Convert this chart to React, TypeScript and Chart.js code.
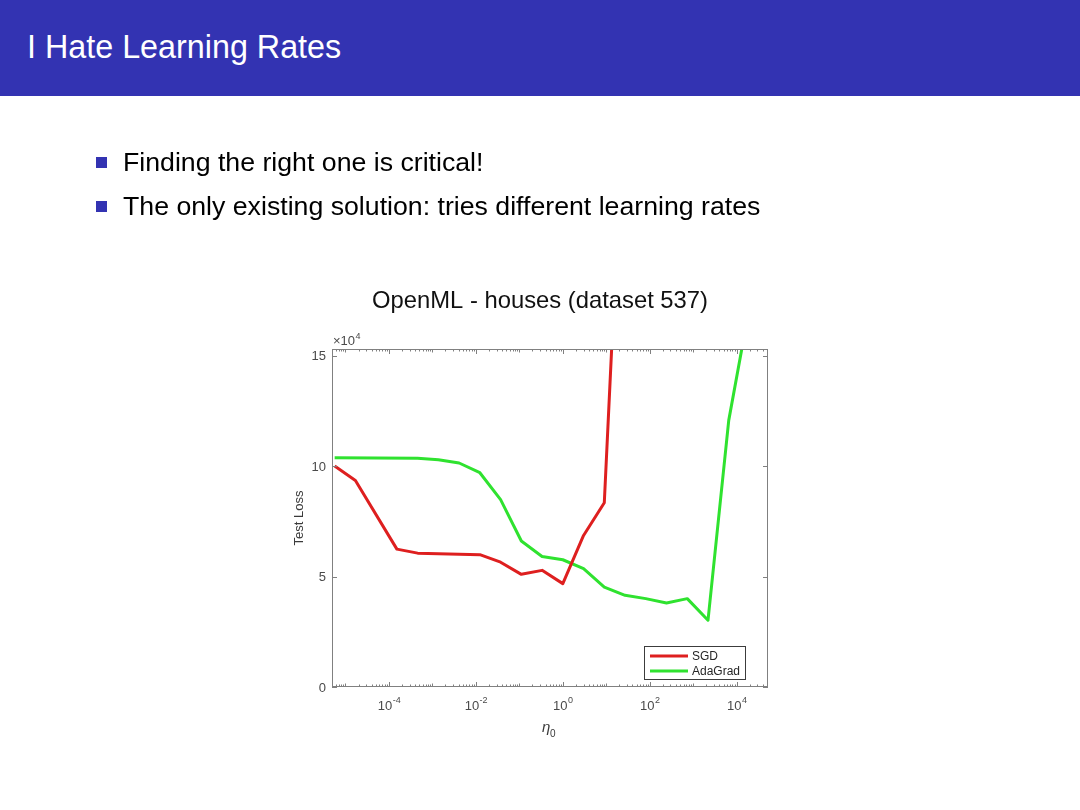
import React, { useEffect, useRef } from "react";
import { Chart, registerables } from "chart.js";

Chart.register(...registerables);

// learning rates (eta_0) and test loss (x 10^4)
const sgdEta = [5.645e-6, 1.694e-5, 1.524e-4, 4.572e-4, 0.01235, 0.03704, 0.1111, 0.3333, 1, 3, 9, 27];
const sgdLoss = [10.0, 9.35, 6.24, 6.06, 5.99, 5.65, 5.1, 5.28, 4.68, 6.86, 8.34, 28.0];
const adaEta = [
  5.645e-6, 4.572e-4, 1.372e-3, 4.115e-3, 0.01235, 0.03704, 0.1111, 0.3333, 1, 3, 9, 27, 81, 243, 729, 2187,
  6561, 19683,
];
const adaLoss = [10.38, 10.36, 10.29, 10.14, 9.7, 8.48, 6.61, 5.91, 5.76, 5.36, 4.52, 4.15, 4.0, 3.8, 4.0, 3.02, 12.07, 17.2];

const seriesNames = ["SGD", "AdaGrad"];
const seriesColors = ["#de1f1f", "#2fe22f"];
const yTicks = [0, 5, 10, 15];
const xLabelExps = ["-4", "-2", "0", "2", "4"];
const xMin = 4.9e-6;
const xMax = 5.25e4;
const yMin = 0;
const yMax = 15.3;

const chartTitle = "OpenML - houses (dataset 537)";
const yTitle = "Test Loss";
const yExponent = "4";
const slideTitle = "I Hate Learning Rates";
const bullets = ["Finding the right one is critical!", "The only existing solution: tries different learning rates"];

const FONT = '"Liberation Sans", Arial, Helvetica, sans-serif';

const decorPlugin = {
  id: "decor",
  afterDraw(chart: any) {
    const ctx: CanvasRenderingContext2D = chart.ctx;
    const { left, right, top, bottom } = chart.chartArea;
    const xs = chart.scales.x;
    const ys = chart.scales.y;
    ctx.save();

    // frame
    ctx.strokeStyle = "#808080";
    ctx.lineWidth = 1;
    ctx.strokeRect(left + 0.5, top + 0.5, right - left - 1, bottom - top - 1);

    // y ticks (inward, both sides)
    ctx.beginPath();
    for (const v of yTicks) {
      const py = Math.round(ys.getPixelForValue(v)) + 0.5;
      ctx.moveTo(left, py);
      ctx.lineTo(left + 5, py);
      ctx.moveTo(right, py);
      ctx.lineTo(right - 5, py);
    }
    ctx.stroke();

    // x ticks (log, inward, top and bottom)
    ctx.beginPath();
    for (let k = -6; k <= 4; k++) {
      for (let m = 1; m <= 9; m++) {
        const val = m * Math.pow(10, k);
        if (val < xMin || val > xMax) continue;
        const px = Math.round(xs.getPixelForValue(val)) + 0.5;
        const len = m === 1 ? (k % 2 === 0 ? 5 : 3.5) : 2.5;
        ctx.moveTo(px, bottom);
        ctx.lineTo(px, bottom - len);
        ctx.moveTo(px, top);
        ctx.lineTo(px, top + len);
      }
    }
    ctx.stroke();

    // y tick labels
    ctx.fillStyle = "#4a4a4a";
    ctx.font = `13px ${FONT}`;
    ctx.textAlign = "right";
    ctx.textBaseline = "middle";
    for (const v of yTicks) {
      ctx.fillText(String(v), left - 6, ys.getPixelForValue(v) + 1);
    }

    // x tick labels 10^e
    ctx.textBaseline = "alphabetic";
    ctx.textAlign = "left";
    for (const e of xLabelExps) {
      const px = xs.getPixelForValue(Math.pow(10, Number(e)));
      ctx.font = `13px ${FONT}`;
      const wBase = ctx.measureText("10").width;
      ctx.font = `9px ${FONT}`;
      const wExp = ctx.measureText(e).width;
      const x0 = px - (wBase + wExp) / 2;
      ctx.font = `13px ${FONT}`;
      ctx.fillText("10", x0, 710);
      ctx.font = `9px ${FONT}`;
      ctx.fillText(e, x0 + wBase + 0.5, 703);
    }

    // x10^4 exponent marker
    ctx.font = `13px ${FONT}`;
    const wTimes = ctx.measureText("\u00d710").width;
    ctx.fillText("\u00d710", left + 1, 345);
    ctx.font = `9px ${FONT}`;
    ctx.fillText(yExponent, left + 1 + wTimes + 0.5, 339);

    // y title
    ctx.save();
    ctx.translate(303, (top + bottom) / 2);
    ctx.rotate(-Math.PI / 2);
    ctx.font = `13px ${FONT}`;
    ctx.textAlign = "center";
    ctx.fillStyle = "#3a3a3a";
    ctx.fillText(yTitle, 0, 0);
    ctx.restore();

    // x title eta_0
    ctx.fillStyle = "#3a3a3a";
    ctx.font = `italic 15px ${FONT}`;
    ctx.textAlign = "left";
    ctx.fillText("\u03b7", 542, 732);
    ctx.font = `10px ${FONT}`;
    ctx.fillText("0", 550, 737);

    // chart title
    ctx.fillStyle = "#111111";
    ctx.font = `23.8px ${FONT}`;
    ctx.textAlign = "center";
    ctx.fillText(chartTitle, 540, 308);

    // legend
    const lx = 644.5;
    const ly = 646.5;
    const lw = 101;
    const lh = 33;
    ctx.fillStyle = "#ffffff";
    ctx.fillRect(lx, ly, lw, lh);
    ctx.strokeStyle = "#3c3c3c";
    ctx.lineWidth = 1;
    ctx.strokeRect(lx, ly, lw, lh);
    ctx.font = `12px ${FONT}`;
    ctx.textAlign = "left";
    ctx.textBaseline = "middle";
    seriesNames.forEach((name, i) => {
      const yy = 656 + i * 15;
      ctx.strokeStyle = seriesColors[i];
      ctx.lineWidth = 3;
      ctx.beginPath();
      ctx.moveTo(650, yy);
      ctx.lineTo(688, yy);
      ctx.stroke();
      ctx.fillStyle = "#262626";
      ctx.fillText(name, 692, yy + 1);
    });

    ctx.restore();
  },
};

export default function App() {
  const canvasRef = useRef<HTMLCanvasElement | null>(null);

  useEffect(() => {
    const canvas = canvasRef.current;
    if (!canvas) return;
    const chart = new Chart(canvas, {
      type: "line",
      data: {
        datasets: [
          {
            label: seriesNames[0],
            data: sgdEta.map((x, i) => ({ x, y: sgdLoss[i] })),
            borderColor: seriesColors[0],
            backgroundColor: seriesColors[0],
            borderWidth: 3,
            pointRadius: 0,
            tension: 0,
            fill: false,
            clip: 0,
            borderJoinStyle: "round",
          },
          {
            label: seriesNames[1],
            data: adaEta.map((x, i) => ({ x, y: adaLoss[i] })),
            borderColor: seriesColors[1],
            backgroundColor: seriesColors[1],
            borderWidth: 3,
            pointRadius: 0,
            tension: 0,
            fill: false,
            clip: 0,
            borderJoinStyle: "round",
          },
        ],
      },
      options: {
        animation: false,
        responsive: false,
        maintainAspectRatio: false,
        devicePixelRatio: 1,
        layout: { padding: { left: 332, right: 312, top: 349, bottom: 123 } },
        scales: {
          x: { type: "logarithmic", min: xMin, max: xMax, display: false },
          y: { type: "linear", min: yMin, max: yMax, display: false },
        },
        plugins: {
          legend: { display: false },
          title: { display: false },
          tooltip: { enabled: false },
        },
        events: [],
      },
      plugins: [decorPlugin],
    } as any);
    return () => chart.destroy();
  }, []);

  return (
    <div style={{ position: "absolute", left: 0, top: 0, width: 1080, height: 810, background: "#ffffff", overflow: "hidden" }}>
      <canvas ref={canvasRef} width={1080} height={810} style={{ position: "absolute", left: 0, top: 0 }} />
      <div style={{ position: "absolute", left: 0, top: 0, width: 1080, height: 96, background: "#3333b2" }}>
        <div
          style={{
            position: "absolute",
            left: 27,
            top: 31,
            fontFamily: FONT,
            fontSize: 32.3,
            lineHeight: "32px",
            color: "#ffffff",
            whiteSpace: "nowrap",
          }}
        >
          {slideTitle}
        </div>
      </div>
      {bullets.map((b, i) => (
        <div key={i}>
          <div
            style={{
              position: "absolute",
              left: 96,
              top: 157 + i * 43.5,
              width: 11,
              height: 11,
              background: "#3333b2",
            }}
          />
          <div
            style={{
              position: "absolute",
              left: 123,
              top: 149 + i * 43.5,
              fontFamily: FONT,
              fontSize: 26.7,
              lineHeight: "26px",
              color: "#000000",
              whiteSpace: "nowrap",
            }}
          >
            {b}
          </div>
        </div>
      ))}
    </div>
  );
}
